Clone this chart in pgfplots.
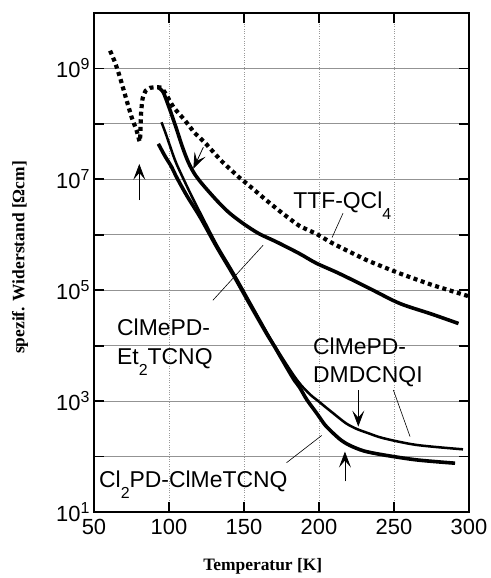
\documentclass[border=0pt]{standalone}
\usepackage{fontspec}
\setmainfont{Liberation Sans}
\newfontfamily\serifb{Liberation Serif}
\usepackage{pgfplots}
\pgfplotsset{compat=1.18}
\usetikzlibrary{arrows.meta}

\newcommand{\lbl}{\fontsize{23}{27}\selectfont}
\newcommand{\sub}[1]{\raisebox{-11bp}{\fontsize{16}{16}\selectfont #1}}
\newcommand{\pw}[1]{10\raisebox{8bp}{\fontsize{16}{16}\selectfont #1}}

\pgfplotstableread{
T R
60.7 2.09e9
64 1.288e9
67.3 6.92e8
71.8 2.63e8
75.1 1.318e8
78.4 7.59e7
80.5 4.8e7
81 7.9e7
81.4 1.585e8
82.4 2.88e8
84.5 3.98e8
87.5 4.47e8
91 4.57e8
95 4.47e8
98.5 3.24e8
103 2.0e8
110.7 1.15e8
117 6.92e7
124 4.57e7
135 2.14e7
147 1.07e7
152 8.32e6
165 4.17e6
176 2.40e6
187 1.445e6
198 1.047e6
209.5 6.92e5
232 3.47e5
254 2.0e5
276 1.23e5
300 7.76e4
}\ttf

\pgfplotstableread{
T R
93 4.47e8
96 3.80e8
100 2.0e8
104.5 8.91e7
109 3.80e7
113 2.0e7
117 1.26e7
122 8.32e6
131.8 4.17e6
140 2.51e6
149.6 1.585e6
160 1.047e6
171.8 7.41e5
187 4.57e5
198 3.09e5
212 2.09e5
225 1.41e5
236 1.0e5
254 5.75e4
275 3.72e4
293 2.51e4
}\ettcnq

\pgfplotstableread{
T R
92.9 4.37e7
97.3 2.63e7
101.8 1.66e7
105 1.10e7
112 5.01e6
120.7 2.09e6
131.8 6.03e5
143 1.86e5
154 5.50e4
165 1.66e4
170 1.0e4
176 5.25e3
183 2.51e3
187 1.78e3
192 1.05e3
198.5 603
204 372
209.5 263
215 195
220.7 158
230 126
243 107
265 87.1
290.7 75.9
}\clpd

\pgfplotstableread{
T R
95 1.07e8
97.5 7.08e7
100.7 3.98e7
105 1.905e7
114 5.75e6
120.7 2.51e6
131.8 6.61e5
143 2.04e5
154 6.03e4
165 1.78e4
170 1.047e4
176 5.75e3
183 2.95e3
188 1.95e3
194 1.32e3
200 977
204 794
209.5 603
218 398
225 316
233 263
243 214
265 162
296 135
}\dmdcnqi

\begin{document}
\begin{tikzpicture}
\useasboundingbox (0,0) rectangle (491bp,578bp);
\begin{axis}[
  at={(94bp,66bp)}, anchor=south west,
  scale only axis, width=375bp, height=499bp,
  xmin=50, xmax=300, ymode=log, ymin=1e1, ymax=1e10,
  xtick={50,100,150,200,250,300},
  xticklabels={50,100,150,200,250,300},
  ytick={1e1,1e2,1e3,1e4,1e5,1e6,1e7,1e8,1e9,1e10},
  yticklabels={\pw{1},,\pw{3},,\pw{5},,\pw{7},,\pw{9},},
  yminorticks=false, xminorticks=false,
  tick pos=both,
  tick align=inside, major tick length=10bp,
  every tick/.style={black, line width=1.8bp},
  axis line style={line width=2.4bp},
  xmajorgrids, ymajorgrids,
  x grid style={gray!80, dotted, line width=0.8bp},
  y grid style={gray!85, line width=0.8bp},
  ticklabel style={font=\fontsize{22}{22}\selectfont},
  xticklabel style={yshift=-4bp},
  yticklabel style={xshift=-1bp},
  xlabel={Temperatur [K]},
  ylabel={spezif. Widerstand [Ωcm]},
  label style={font=\serifb\bfseries\fontsize{17.5}{17.5}\selectfont},
  xlabel style={at={(axis description cs:0.45,0)}, anchor=center, yshift=-54bp},
  ylabel style={at={(axis description cs:-0.197,0.51)}, anchor=center},
  clip=true,
]
\addplot[black, line width=4.2bp, dash pattern=on 4bp off 3.6bp, smooth, tension=0.3] table[x=T,y=R] {\ttf};
\addplot[black, line width=3.6bp, smooth, tension=0.5] table[x=T,y=R] {\ettcnq};
\addplot[black, line width=3.6bp, smooth, tension=0.5] table[x=T,y=R] {\clpd};
\addplot[black, line width=2.5bp, smooth, tension=0.5] table[x=T,y=R] {\dmdcnqi};

% labels
\node[anchor=base west, inner sep=0, font=\lbl] at (axis cs:182.7,3.0e6) {TTF-QCl\sub{4}};
\node[anchor=base west, inner sep=0, font=\lbl] at (axis cs:65.3,1.55e4) {ClMePD-};
\node[anchor=base west, inner sep=0, font=\lbl] at (axis cs:65.3,4.5e3) {Et\sub{2}TCNQ};
\node[anchor=base west, inner sep=0, font=\lbl] at (axis cs:196,6.8e3) {ClMePD-};
\node[anchor=base west, inner sep=0, font=\lbl] at (axis cs:196,2.19e3) {DMDCNQI};
\node[anchor=base west, inner sep=0, font=\lbl] at (axis cs:53.3,28.2) {Cl\sub{2}PD-ClMeTCNQ};

% leader lines
\draw[black, line width=0.6bp] (axis cs:216,2.45e6) -- (axis cs:208.7,8.9e5);
\draw[black, line width=0.6bp] (axis cs:129.3,6.6e4) -- (axis cs:162.7,6.46e5);
\draw[black, line width=0.6bp] (axis cs:249.6,1.58e3) -- (axis cs:260.7,229);
\draw[black, line width=0.6bp] (axis cs:178.4,77.6) -- (axis cs:201.8,240);

% arrows
\tikzset{myarr/.style={black, line width=0.8bp, -{Stealth[length=16bp,width=12bp,inset=7bp]}}}
\draw[myarr] (axis cs:80.2,4.2e6) -- (axis cs:80.2,1.9e7);
\draw[myarr] (axis cs:122.9,3.8e7) -- (axis cs:116.2,1.55e7);
\draw[myarr] (axis cs:226.2,1.58e3) -- (axis cs:226.2,347);
\draw[myarr] (axis cs:217.3,35.5) -- (axis cs:217.3,123);
\end{axis}
\end{tikzpicture}
\end{document}
